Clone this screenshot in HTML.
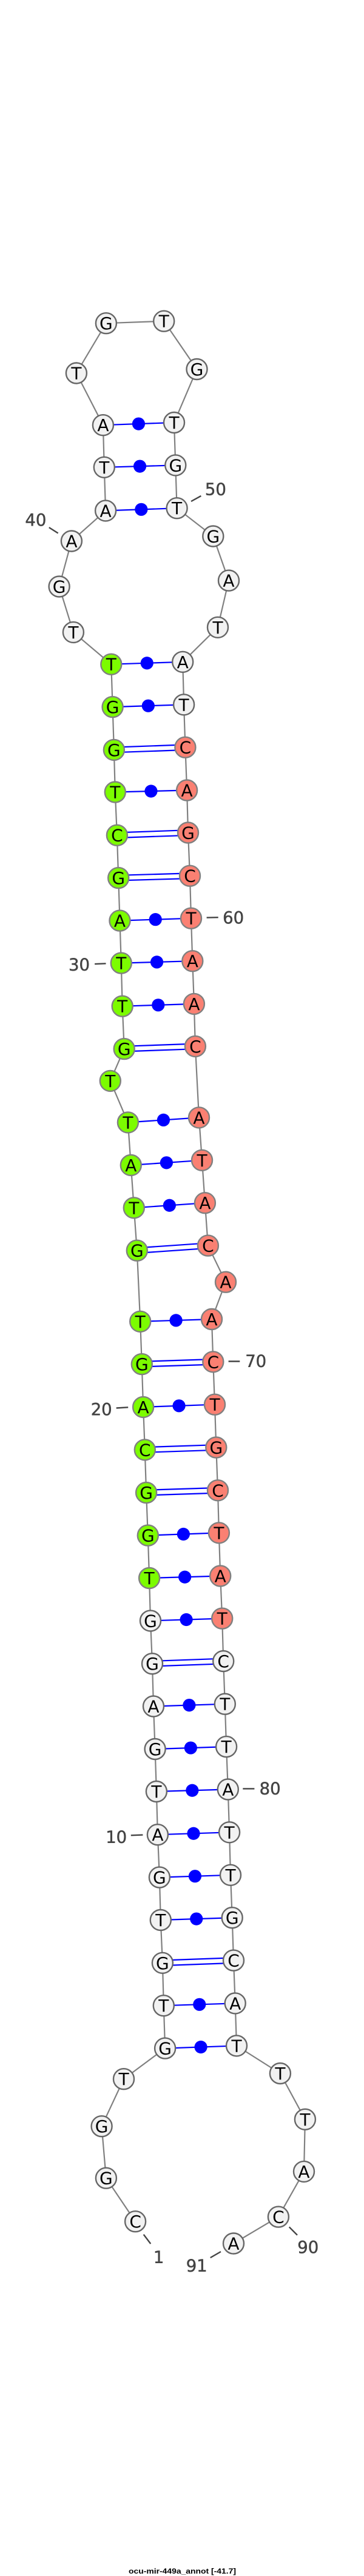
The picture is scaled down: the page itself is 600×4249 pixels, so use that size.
<!DOCTYPE html>
<html>
<head>
<meta charset="utf-8">
<style>
html,body{margin:0;padding:0;background:#fff}
svg{display:block}
.bb{fill:none;stroke:#808080;stroke-width:2.2}
.p{stroke:#0000ff;stroke-width:2.2}
.d{fill:#0000ff}
.w{fill:#f2f2f2;stroke:#666;stroke-width:2.4}
.g{fill:#7cfc00;stroke:#808080;stroke-width:2.4}
.s{fill:#fa8072;stroke:#808080;stroke-width:2.4}
.n{font-family:"DejaVu Sans",sans-serif;font-size:28px;text-anchor:middle;fill:#000}
.l{font-family:"DejaVu Sans",sans-serif;font-size:27.5px;text-anchor:middle;fill:#444;stroke:#444;stroke-width:.5}
.t{stroke:#444;stroke-width:2.4}
.c{font-family:"Liberation Sans",sans-serif;font-weight:bold;font-size:12px;fill:#000}
</style>
</head>
<body>
<svg xmlns="http://www.w3.org/2000/svg" width="600" height="4249" viewBox="0 0 600 4249">
<polyline class="bb" points="223.1,3664.2 174.9,3592.7 167.6,3507.2 204,3429.2 272.1,3378.6 269.8,3308.2 267.9,3237.8 264.8,3167 262.9,3096.6 259.9,3026.2 257.9,2955 255.6,2885 253,2814.5 251,2744.2 248,2673.4 246.1,2603 243.8,2532.6 241.1,2462.1 238.8,2391.4 236.1,2320.9 233.8,2250.1 231.2,2179.8 225.8,2062.7 220.8,1992.3 215.8,1921.9 210.9,1851.4 181.8,1782.9 204.7,1730.1 201.7,1659.7 199.8,1588.6 197.5,1518.6 195.2,1448.1 192.9,1377.7 189.8,1306.5 187.9,1236.9 185.6,1166.1 183.3,1095.7 120.9,1042.9 97.6,967.5 117.9,892.5 174.1,842.4 171.8,770.8 169.9,701.2 125.9,615.5 174.9,533.2 270.2,529.7 324.5,609 287,697 289.3,767.4 291.6,838.2 351.3,884.5 377,957.6 359,1034.8 301.2,1091.8 303.1,1162.3 305.4,1232.7 308.1,1303.5 310,1373.5 313,1444.7 315,1514.7 317.3,1585.2 319.9,1655.9 321.9,1725.9 328,1843.4 333,1913.8 337.9,1984.2 342.9,2054.6 372,2114.7 349,2176 351.3,2246.3 354,2316.7 356.3,2387.5 359,2458.3 360.9,2528.4 363.2,2599.5 366.2,2669.6 368.2,2740 370.8,2810.7 373.1,2881.1 375.8,2951.5 378.1,3022.3 380,3092.8 382.7,3163.2 385,3233.6 387.7,3304.4 390,3374.4 461.9,3420 502.9,3495.8 501,3581.9 458.9,3656.6 385,3700.5"/>

<!-- single pairs -->
<line class="p" x1="272.1" y1="3378.6" x2="390" y2="3374.4"/><circle class="d" cx="331.05" cy="3376.5" r="10.6"/>
<line class="p" x1="269.8" y1="3308.2" x2="387.7" y2="3304.4"/><circle class="d" cx="328.75" cy="3306.3" r="10.6"/>
<line class="p" x1="264.8" y1="3167" x2="382.7" y2="3163.2"/><circle class="d" cx="323.75" cy="3165.1" r="10.6"/>
<line class="p" x1="262.9" y1="3096.6" x2="380" y2="3092.8"/><circle class="d" cx="321.45" cy="3094.7" r="10.6"/>
<line class="p" x1="259.9" y1="3026.2" x2="378.1" y2="3022.3"/><circle class="d" cx="319" cy="3024.25" r="10.6"/>
<line class="p" x1="257.9" y1="2955" x2="375.8" y2="2951.5"/><circle class="d" cx="316.85" cy="2953.25" r="10.6"/>
<line class="p" x1="255.6" y1="2885" x2="373.1" y2="2881.1"/><circle class="d" cx="314.35" cy="2883.05" r="10.6"/>
<line class="p" x1="253" y1="2814.5" x2="370.8" y2="2810.7"/><circle class="d" cx="311.9" cy="2812.6" r="10.6"/>
<line class="p" x1="248" y1="2673.4" x2="366.2" y2="2669.6"/><circle class="d" cx="307.1" cy="2671.5" r="10.6"/>
<line class="p" x1="246.1" y1="2603" x2="363.2" y2="2599.5"/><circle class="d" cx="304.65" cy="2601.25" r="10.6"/>
<line class="p" x1="243.8" y1="2532.6" x2="360.9" y2="2528.4"/><circle class="d" cx="302.35" cy="2530.5" r="10.6"/>
<line class="p" x1="236.1" y1="2320.9" x2="354" y2="2316.7"/><circle class="d" cx="295.05" cy="2318.8" r="10.6"/>
<line class="p" x1="231.2" y1="2179.8" x2="349" y2="2176"/><circle class="d" cx="290.1" cy="2177.9" r="10.6"/>
<line class="p" x1="220.8" y1="1992.3" x2="337.9" y2="1984.2"/><circle class="d" cx="279.35" cy="1988.25" r="10.6"/>
<line class="p" x1="215.8" y1="1921.9" x2="333" y2="1913.8"/><circle class="d" cx="274.4" cy="1917.85" r="10.6"/>
<line class="p" x1="210.9" y1="1851.4" x2="328" y2="1843.4"/><circle class="d" cx="269.45" cy="1847.4" r="10.6"/>
<line class="p" x1="201.7" y1="1659.7" x2="319.9" y2="1655.9"/><circle class="d" cx="260.8" cy="1657.8" r="10.6"/>
<line class="p" x1="199.8" y1="1588.6" x2="317.3" y2="1585.2"/><circle class="d" cx="258.55" cy="1586.9" r="10.6"/>
<line class="p" x1="197.5" y1="1518.6" x2="315" y2="1514.7"/><circle class="d" cx="256.25" cy="1516.65" r="10.6"/>
<line class="p" x1="189.8" y1="1306.5" x2="308.1" y2="1303.5"/><circle class="d" cx="248.95" cy="1305" r="10.6"/>
<line class="p" x1="185.6" y1="1166.1" x2="303.1" y2="1162.3"/><circle class="d" cx="244.35" cy="1164.2" r="10.6"/>
<line class="p" x1="183.3" y1="1095.7" x2="301.2" y2="1091.8"/><circle class="d" cx="242.25" cy="1093.75" r="10.6"/>
<line class="p" x1="174.1" y1="842.4" x2="291.6" y2="838.2"/><circle class="d" cx="232.85" cy="840.3" r="10.6"/>
<line class="p" x1="171.8" y1="770.8" x2="289.3" y2="767.4"/><circle class="d" cx="230.55" cy="769.1" r="10.6"/>
<line class="p" x1="169.9" y1="701.2" x2="287" y2="697"/><circle class="d" cx="228.45" cy="699.1" r="10.6"/>

<!-- double pairs -->
<line class="p" x1="267.9" y1="3233.5" x2="385" y2="3229.3"/><line class="p" x1="267.9" y1="3242.1" x2="385" y2="3237.9"/>
<line class="p" x1="251" y1="2739.9" x2="368.2" y2="2735.7"/><line class="p" x1="251" y1="2748.5" x2="368.2" y2="2744.3"/>
<line class="p" x1="241.1" y1="2457.8" x2="359" y2="2454"/><line class="p" x1="241.1" y1="2466.4" x2="359" y2="2462.6"/>
<line class="p" x1="238.8" y1="2387.1" x2="356.3" y2="2383.2"/><line class="p" x1="238.8" y1="2395.7" x2="356.3" y2="2391.8"/>
<line class="p" x1="233.8" y1="2245.8" x2="351.3" y2="2242"/><line class="p" x1="233.8" y1="2254.4" x2="351.3" y2="2250.6"/>
<line class="p" x1="225.8" y1="2058.4" x2="342.9" y2="2050.3"/><line class="p" x1="225.8" y1="2067" x2="342.9" y2="2058.9"/>
<line class="p" x1="204.7" y1="1725.8" x2="321.9" y2="1721.6"/><line class="p" x1="204.7" y1="1734.4" x2="321.9" y2="1730.2"/>
<line class="p" x1="195.2" y1="1443.8" x2="313" y2="1440.4"/><line class="p" x1="195.2" y1="1452.4" x2="313" y2="1449"/>
<line class="p" x1="192.9" y1="1373.4" x2="310" y2="1369.2"/><line class="p" x1="192.9" y1="1382" x2="310" y2="1377.8"/>
<line class="p" x1="187.9" y1="1232.6" x2="305.4" y2="1228.4"/><line class="p" x1="187.9" y1="1241.2" x2="305.4" y2="1237"/>

<!-- ticks -->
<line class="t" x1="236.7" y1="3685.7" x2="248.3" y2="3701"/>
<line class="t" x1="346.7" y1="3724" x2="364" y2="3714"/>
<line class="t" x1="476.7" y1="3673.3" x2="490" y2="3686.7"/>
<line class="t" x1="215.8" y1="3027.3" x2="235.4" y2="3026.6"/>
<line class="t" x1="400.3" y1="2950.4" x2="419.4" y2="2950.4"/>
<line class="t" x1="191.7" y1="2322.5" x2="211.2" y2="2321.3"/>
<line class="t" x1="376.6" y1="2245.5" x2="395.3" y2="2245.5"/>
<line class="t" x1="156.1" y1="1590.1" x2="174.5" y2="1589.3"/>
<line class="t" x1="340.6" y1="1513.6" x2="359.7" y2="1513.2"/>
<line class="t" x1="80.8" y1="870" x2="95.7" y2="879.5"/>
<line class="t" x1="315" y1="827" x2="331.4" y2="817.9"/>

<!-- nodes -->
<circle class="w" cx="223.1" cy="3664.2" r="17"/><text class="n" x="223.1" y="3664.2" dy="10">C</text>
<circle class="w" cx="174.9" cy="3592.7" r="17"/><text class="n" x="174.9" y="3592.7" dy="10">G</text>
<circle class="w" cx="167.6" cy="3507.2" r="17"/><text class="n" x="167.6" y="3507.2" dy="10">G</text>
<circle class="w" cx="204" cy="3429.2" r="17"/><text class="n" x="204" y="3429.2" dy="10">T</text>
<circle class="w" cx="272.1" cy="3378.6" r="17"/><text class="n" x="272.1" y="3378.6" dy="10">G</text>
<circle class="w" cx="269.8" cy="3308.2" r="17"/><text class="n" x="269.8" y="3308.2" dy="10">T</text>
<circle class="w" cx="267.9" cy="3237.8" r="17"/><text class="n" x="267.9" y="3237.8" dy="10">G</text>
<circle class="w" cx="264.8" cy="3167" r="17"/><text class="n" x="264.8" y="3167" dy="10">T</text>
<circle class="w" cx="262.9" cy="3096.6" r="17"/><text class="n" x="262.9" y="3096.6" dy="10">G</text>
<circle class="w" cx="259.9" cy="3026.2" r="17"/><text class="n" x="259.9" y="3026.2" dy="10">A</text>
<circle class="w" cx="257.9" cy="2955" r="17"/><text class="n" x="257.9" y="2955" dy="10">T</text>
<circle class="w" cx="255.6" cy="2885" r="17"/><text class="n" x="255.6" y="2885" dy="10">G</text>
<circle class="w" cx="253" cy="2814.5" r="17"/><text class="n" x="253" y="2814.5" dy="10">A</text>
<circle class="w" cx="251" cy="2744.2" r="17"/><text class="n" x="251" y="2744.2" dy="10">G</text>
<circle class="w" cx="248" cy="2673.4" r="17"/><text class="n" x="248" y="2673.4" dy="10">G</text>
<circle class="g" cx="246.1" cy="2603" r="17"/><text class="n" x="246.1" y="2603" dy="10">T</text>
<circle class="g" cx="243.8" cy="2532.6" r="17"/><text class="n" x="243.8" y="2532.6" dy="10">G</text>
<circle class="g" cx="241.1" cy="2462.1" r="17"/><text class="n" x="241.1" y="2462.1" dy="10">G</text>
<circle class="g" cx="238.8" cy="2391.4" r="17"/><text class="n" x="238.8" y="2391.4" dy="10">C</text>
<circle class="g" cx="236.1" cy="2320.9" r="17"/><text class="n" x="236.1" y="2320.9" dy="10">A</text>
<circle class="g" cx="233.8" cy="2250.1" r="17"/><text class="n" x="233.8" y="2250.1" dy="10">G</text>
<circle class="g" cx="231.2" cy="2179.8" r="17"/><text class="n" x="231.2" y="2179.8" dy="10">T</text>
<circle class="g" cx="225.8" cy="2062.7" r="17"/><text class="n" x="225.8" y="2062.7" dy="10">G</text>
<circle class="g" cx="220.8" cy="1992.3" r="17"/><text class="n" x="220.8" y="1992.3" dy="10">T</text>
<circle class="g" cx="215.8" cy="1921.9" r="17"/><text class="n" x="215.8" y="1921.9" dy="10">A</text>
<circle class="g" cx="210.9" cy="1851.4" r="17"/><text class="n" x="210.9" y="1851.4" dy="10">T</text>
<circle class="g" cx="181.8" cy="1782.9" r="17"/><text class="n" x="181.8" y="1782.9" dy="10">T</text>
<circle class="g" cx="204.7" cy="1730.1" r="17"/><text class="n" x="204.7" y="1730.1" dy="10">G</text>
<circle class="g" cx="201.7" cy="1659.7" r="17"/><text class="n" x="201.7" y="1659.7" dy="10">T</text>
<circle class="g" cx="199.8" cy="1588.6" r="17"/><text class="n" x="199.8" y="1588.6" dy="10">T</text>
<circle class="g" cx="197.5" cy="1518.6" r="17"/><text class="n" x="197.5" y="1518.6" dy="10">A</text>
<circle class="g" cx="195.2" cy="1448.1" r="17"/><text class="n" x="195.2" y="1448.1" dy="10">G</text>
<circle class="g" cx="192.9" cy="1377.7" r="17"/><text class="n" x="192.9" y="1377.7" dy="10">C</text>
<circle class="g" cx="189.8" cy="1306.5" r="17"/><text class="n" x="189.8" y="1306.5" dy="10">T</text>
<circle class="g" cx="187.9" cy="1236.9" r="17"/><text class="n" x="187.9" y="1236.9" dy="10">G</text>
<circle class="g" cx="185.6" cy="1166.1" r="17"/><text class="n" x="185.6" y="1166.1" dy="10">G</text>
<circle class="g" cx="183.3" cy="1095.7" r="17"/><text class="n" x="183.3" y="1095.7" dy="10">T</text>
<circle class="w" cx="120.9" cy="1042.9" r="17"/><text class="n" x="120.9" y="1042.9" dy="10">T</text>
<circle class="w" cx="97.6" cy="967.5" r="17"/><text class="n" x="97.6" y="967.5" dy="10">G</text>
<circle class="w" cx="117.9" cy="892.5" r="17"/><text class="n" x="117.9" y="892.5" dy="10">A</text>
<circle class="w" cx="174.1" cy="842.4" r="17"/><text class="n" x="174.1" y="842.4" dy="10">A</text>
<circle class="w" cx="171.8" cy="770.8" r="17"/><text class="n" x="171.8" y="770.8" dy="10">T</text>
<circle class="w" cx="169.9" cy="701.2" r="17"/><text class="n" x="169.9" y="701.2" dy="10">A</text>
<circle class="w" cx="125.9" cy="615.5" r="17"/><text class="n" x="125.9" y="615.5" dy="10">T</text>
<circle class="w" cx="174.9" cy="533.2" r="17"/><text class="n" x="174.9" y="533.2" dy="10">G</text>
<circle class="w" cx="270.2" cy="529.7" r="17"/><text class="n" x="270.2" y="529.7" dy="10">T</text>
<circle class="w" cx="324.5" cy="609" r="17"/><text class="n" x="324.5" y="609" dy="10">G</text>
<circle class="w" cx="287" cy="697" r="17"/><text class="n" x="287" y="697" dy="10">T</text>
<circle class="w" cx="289.3" cy="767.4" r="17"/><text class="n" x="289.3" y="767.4" dy="10">G</text>
<circle class="w" cx="291.6" cy="838.2" r="17"/><text class="n" x="291.6" y="838.2" dy="10">T</text>
<circle class="w" cx="351.3" cy="884.5" r="17"/><text class="n" x="351.3" y="884.5" dy="10">G</text>
<circle class="w" cx="377" cy="957.6" r="17"/><text class="n" x="377" y="957.6" dy="10">A</text>
<circle class="w" cx="359" cy="1034.8" r="17"/><text class="n" x="359" y="1034.8" dy="10">T</text>
<circle class="w" cx="301.2" cy="1091.8" r="17"/><text class="n" x="301.2" y="1091.8" dy="10">A</text>
<circle class="w" cx="303.1" cy="1162.3" r="17"/><text class="n" x="303.1" y="1162.3" dy="10">T</text>
<circle class="s" cx="305.4" cy="1232.7" r="17"/><text class="n" x="305.4" y="1232.7" dy="10">C</text>
<circle class="s" cx="308.1" cy="1303.5" r="17"/><text class="n" x="308.1" y="1303.5" dy="10">A</text>
<circle class="s" cx="310" cy="1373.5" r="17"/><text class="n" x="310" y="1373.5" dy="10">G</text>
<circle class="s" cx="313" cy="1444.7" r="17"/><text class="n" x="313" y="1444.7" dy="10">C</text>
<circle class="s" cx="315" cy="1514.7" r="17"/><text class="n" x="315" y="1514.7" dy="10">T</text>
<circle class="s" cx="317.3" cy="1585.2" r="17"/><text class="n" x="317.3" y="1585.2" dy="10">A</text>
<circle class="s" cx="319.9" cy="1655.9" r="17"/><text class="n" x="319.9" y="1655.9" dy="10">A</text>
<circle class="s" cx="321.9" cy="1725.9" r="17"/><text class="n" x="321.9" y="1725.9" dy="10">C</text>
<circle class="s" cx="328" cy="1843.4" r="17"/><text class="n" x="328" y="1843.4" dy="10">A</text>
<circle class="s" cx="333" cy="1913.8" r="17"/><text class="n" x="333" y="1913.8" dy="10">T</text>
<circle class="s" cx="337.9" cy="1984.2" r="17"/><text class="n" x="337.9" y="1984.2" dy="10">A</text>
<circle class="s" cx="342.9" cy="2054.6" r="17"/><text class="n" x="342.9" y="2054.6" dy="10">C</text>
<circle class="s" cx="372" cy="2114.7" r="17"/><text class="n" x="372" y="2114.7" dy="10">A</text>
<circle class="s" cx="349" cy="2176" r="17"/><text class="n" x="349" y="2176" dy="10">A</text>
<circle class="s" cx="351.3" cy="2246.3" r="17"/><text class="n" x="351.3" y="2246.3" dy="10">C</text>
<circle class="s" cx="354" cy="2316.7" r="17"/><text class="n" x="354" y="2316.7" dy="10">T</text>
<circle class="s" cx="356.3" cy="2387.5" r="17"/><text class="n" x="356.3" y="2387.5" dy="10">G</text>
<circle class="s" cx="359" cy="2458.3" r="17"/><text class="n" x="359" y="2458.3" dy="10">C</text>
<circle class="s" cx="360.9" cy="2528.4" r="17"/><text class="n" x="360.9" y="2528.4" dy="10">T</text>
<circle class="s" cx="363.2" cy="2599.5" r="17"/><text class="n" x="363.2" y="2599.5" dy="10">A</text>
<circle class="s" cx="366.2" cy="2669.6" r="17"/><text class="n" x="366.2" y="2669.6" dy="10">T</text>
<circle class="w" cx="368.2" cy="2740" r="17"/><text class="n" x="368.2" y="2740" dy="10">C</text>
<circle class="w" cx="370.8" cy="2810.7" r="17"/><text class="n" x="370.8" y="2810.7" dy="10">T</text>
<circle class="w" cx="373.1" cy="2881.1" r="17"/><text class="n" x="373.1" y="2881.1" dy="10">T</text>
<circle class="w" cx="375.8" cy="2951.5" r="17"/><text class="n" x="375.8" y="2951.5" dy="10">A</text>
<circle class="w" cx="378.1" cy="3022.3" r="17"/><text class="n" x="378.1" y="3022.3" dy="10">T</text>
<circle class="w" cx="380" cy="3092.8" r="17"/><text class="n" x="380" y="3092.8" dy="10">T</text>
<circle class="w" cx="382.7" cy="3163.2" r="17"/><text class="n" x="382.7" y="3163.2" dy="10">G</text>
<circle class="w" cx="385" cy="3233.6" r="17"/><text class="n" x="385" y="3233.6" dy="10">C</text>
<circle class="w" cx="387.7" cy="3304.4" r="17"/><text class="n" x="387.7" y="3304.4" dy="10">A</text>
<circle class="w" cx="390" cy="3374.4" r="17"/><text class="n" x="390" y="3374.4" dy="10">T</text>
<circle class="w" cx="461.9" cy="3420" r="17"/><text class="n" x="461.9" y="3420" dy="10">T</text>
<circle class="w" cx="502.9" cy="3495.8" r="17"/><text class="n" x="502.9" y="3495.8" dy="10">T</text>
<circle class="w" cx="501" cy="3581.9" r="17"/><text class="n" x="501" y="3581.9" dy="10">A</text>
<circle class="w" cx="458.9" cy="3656.6" r="17"/><text class="n" x="458.9" y="3656.6" dy="10">C</text>
<circle class="w" cx="385" cy="3700.5" r="17"/><text class="n" x="385" y="3700.5" dy="10">A</text>

<!-- labels -->
<text class="l" x="261.6" y="3732.7">1</text>
<text class="l" x="191.7" y="3039.6">10</text>
<text class="l" x="167.2" y="2334">20</text>
<text class="l" x="130.5" y="1600.5">30</text>
<text class="l" x="58.9" y="866.9">40</text>
<text class="l" x="355.4" y="816.6">50</text>
<text class="l" x="384.6" y="1522.8">60</text>
<text class="l" x="421.7" y="2254.4">70</text>
<text class="l" x="445.1" y="2959.6">80</text>
<text class="l" x="507.8" y="3715.9">90</text>
<text class="l" x="324.2" y="3746.7">91</text>

<text class="c" x="212" y="4245" textLength="177" lengthAdjust="spacingAndGlyphs">ocu-mir-449a_annot [-41.7]</text>
</svg>
</body>
</html>
